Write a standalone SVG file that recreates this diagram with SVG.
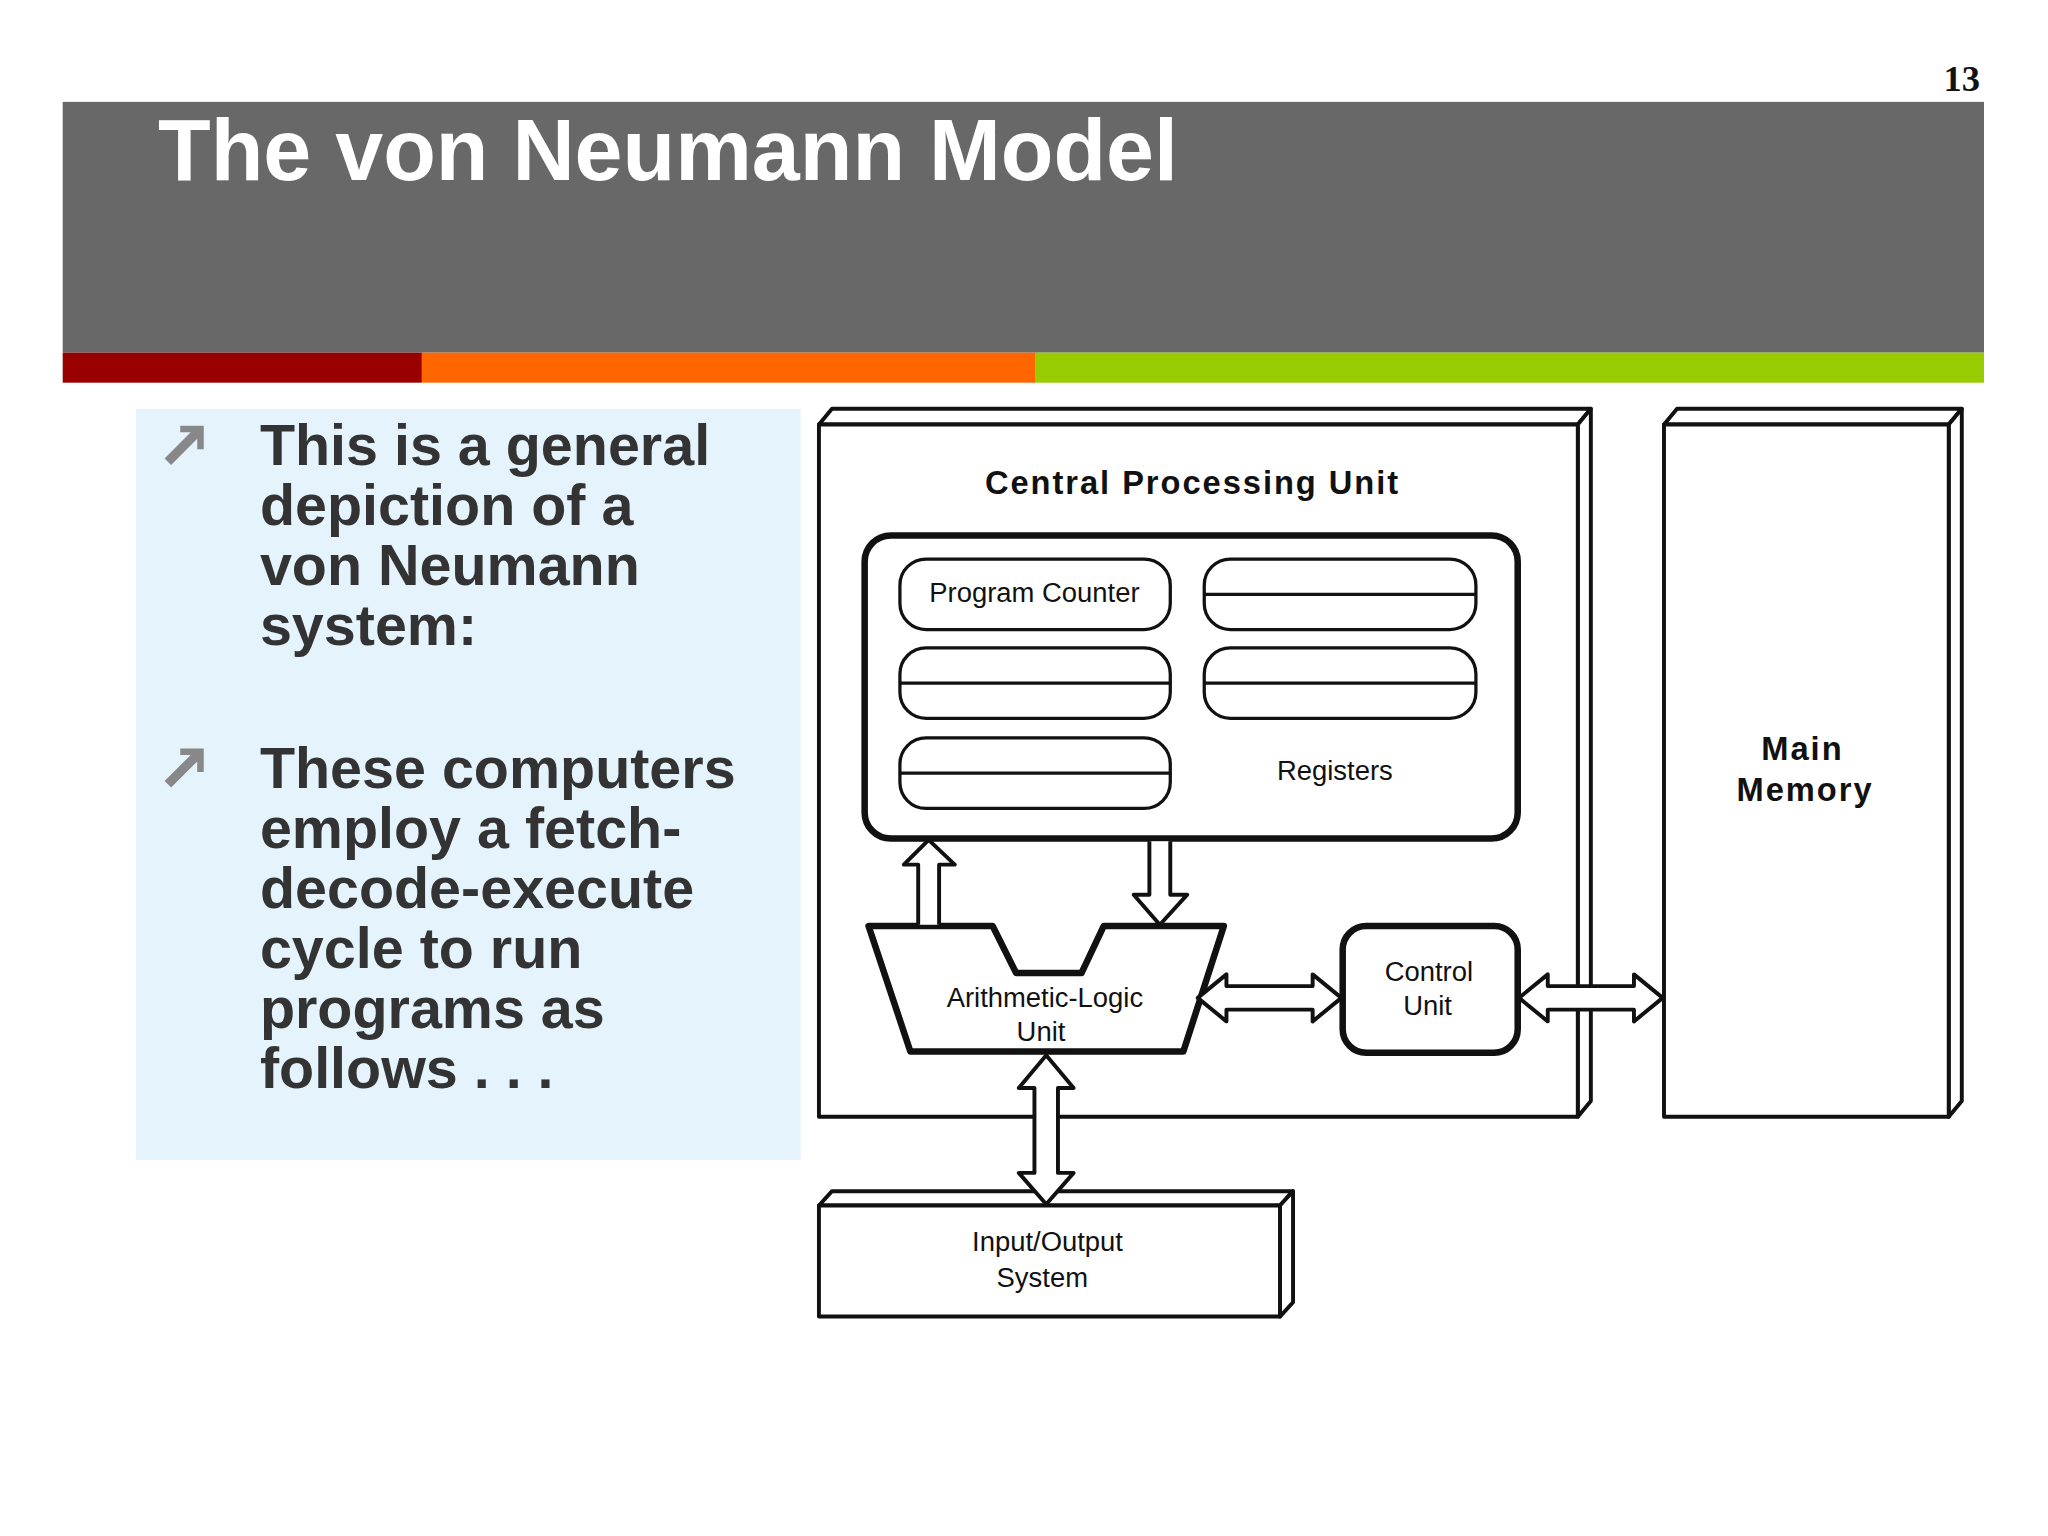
<svg xmlns="http://www.w3.org/2000/svg" width="2048" height="1536" viewBox="0 0 2048 1536">
<style>
.b{font-family:"Liberation Sans",Arial,sans-serif;font-weight:bold;fill:#333;font-size:44px}
.d{font-family:"Liberation Sans",Arial,sans-serif;fill:#111;font-size:21px;text-anchor:middle}
.db{font-family:"Liberation Sans",Arial,sans-serif;font-weight:bold;fill:#111;font-size:25px;text-anchor:middle;letter-spacing:1.5px}
.ln{fill:#fff;stroke:#111;stroke-width:3;stroke-linejoin:round}
.thick{fill:#fff;stroke:#111;stroke-width:5;stroke-linejoin:round}
.pill{fill:#fff;stroke:#111;stroke-width:2.5}
</style>
<rect width="2048" height="1536" fill="#fff"/>
<g transform="scale(1.30612)">
<g id="header">
<rect x="48" y="78" width="1471" height="192" fill="#686868"/>
<rect x="48" y="270" width="275" height="23" fill="#990000"/>
<rect x="323" y="270" width="470" height="23" fill="#FF6600"/>
<rect x="793" y="270" width="726" height="23" fill="#99CC00"/>
<text x="121" y="138" font-family="Liberation Sans,Arial,sans-serif" font-weight="bold" font-size="66" fill="#fff">The von Neumann Model</text>
<text x="1516" y="70" text-anchor="end" font-family="Liberation Serif,serif" font-weight="bold" font-size="28" fill="#111">13</text>
</g>
<g id="bullets">
<rect x="104" y="313" width="509" height="575" fill="#E5F3FD"/>
<path d="M126 351 L146 331 L138 331 L138 326 L156 326 L156 344 L151 344 L151 336 L131 356 Z" fill="#888"/>
<path d="M126 598 L146 578 L138 578 L138 573 L156 573 L156 591 L151 591 L151 583 L131 603 Z" fill="#888"/>
<text class="b"><tspan x="199" y="356">This is a general</tspan><tspan x="199" y="402">depiction of a</tspan><tspan x="199" y="448">von Neumann</tspan><tspan x="199" y="494">system:</tspan></text>
<text class="b"><tspan x="199" y="603">These computers</tspan><tspan x="199" y="649">employ a fetch-</tspan><tspan x="199" y="695">decode-execute</tspan><tspan x="199" y="741">cycle to run</tspan><tspan x="199" y="787">programs as</tspan><tspan x="199" y="833">follows . . .</tspan></text>
</g>
<g id="cpu">
<polygon class="ln" points="627,325 637,313 1218,313 1208,325"/>
<polygon class="ln" points="1208,325 1218,313 1218,843 1208,855"/>
<rect class="ln" x="627" y="325" width="581" height="530"/>
<text class="db" x="913" y="378">Central Processing Unit</text>
</g>
<g id="memory">
<polygon class="ln" points="1274,325 1284,313 1502,313 1492,325"/>
<polygon class="ln" points="1492,325 1502,313 1502,843 1492,855"/>
<rect class="ln" x="1274" y="325" width="218" height="530"/>
<text class="db" x="1380" y="582">Main</text>
<text class="db" x="1382" y="613">Memory</text>
</g>
<g id="registers">
<rect class="thick" x="662" y="410" width="500" height="232" rx="20"/>
<rect class="pill" x="689" y="428" width="207" height="54" rx="20"/>
<text class="d" x="792" y="461">Program Counter</text>
<rect class="pill" x="922" y="428" width="208" height="54" rx="20"/><line x1="922" y1="455" x2="1130" y2="455" stroke="#111" stroke-width="2.5"/>
<rect class="pill" x="689" y="496" width="207" height="54" rx="20"/><line x1="689" y1="523" x2="896" y2="523" stroke="#111" stroke-width="2.5"/>
<rect class="pill" x="922" y="496" width="208" height="54" rx="20"/><line x1="922" y1="523" x2="1130" y2="523" stroke="#111" stroke-width="2.5"/>
<rect class="pill" x="689" y="565" width="207" height="54" rx="20"/><line x1="689" y1="592" x2="896" y2="592" stroke="#111" stroke-width="2.5"/>
<text class="d" x="1022" y="597">Registers</text>
</g>
<g id="alu">
<polygon class="thick" points="665,709 760,709 778,745 828,745 845,709 937,709 906,805 697,805"/>
<text class="d" x="800" y="771">Arithmetic-Logic</text>
<text class="d" x="797" y="797">Unit</text>
</g>
<g id="control">
<rect class="thick" x="1028" y="709" width="134" height="97" rx="18"/>
<text class="d" x="1094" y="751">Control</text>
<text class="d" x="1093" y="777">Unit</text>
</g>
<g id="io">
<polygon class="ln" points="627,923 637,912 990,912 980,923"/>
<polygon class="ln" points="980,923 990,912 990,997 980,1008"/>
<rect class="ln" x="627" y="923" width="353" height="85"/>
<text class="d" x="802" y="958">Input/Output</text>
<text class="d" x="798" y="985">System</text>
</g>
<g id="connectors">
<path class="ln" d="M703 708 L703 662 L692 662 L711 643 L731 662 L719 662 L719 708"/>
<path class="ln" d="M880 644 L880 685 L868 685 L888 708 L909 685 L896 685 L896 644"/>
<path class="ln" d="M917 764 L939 746 L939 755 L1005 755 L1005 746 L1027 764 L1005 782 L1005 773 L939 773 L939 782 Z"/>
<path class="ln" d="M1163 764 L1185 746 L1185 755 L1251 755 L1251 746 L1273 764 L1251 782 L1251 773 L1185 773 L1185 782 Z"/>
<path class="ln" d="M801 808 L822 833 L810 833 L810 898 L822 898 L801 922 L780 898 L792 898 L792 833 L780 833 Z"/>
</g>
</g>
</svg>
